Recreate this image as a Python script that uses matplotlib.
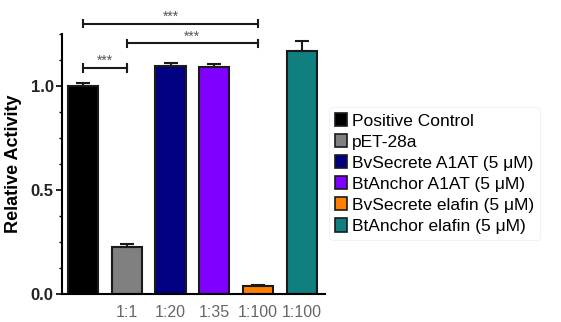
import matplotlib
matplotlib.use("Agg")
import matplotlib.pyplot as plt
from matplotlib.patches import Patch
from matplotlib.ticker import MultipleLocator

plt.rcParams['font.family'] = ['Liberation Sans', 'DejaVu Sans']

series = ["Positive Control", "pET-28a", "BvSecrete A1AT (5 \u03bcM)",
          "BtAnchor A1AT (5 \u03bcM)", "BvSecrete elafin (5 \u03bcM)",
          "BtAnchor elafin (5 \u03bcM)"]
tick_labels = ["", "1:1", "1:20", "1:35", "1:100", "1:100"]
values = [1.00, 0.225, 1.098, 1.09, 0.037, 1.17]
errors = [0.015, 0.015, 0.015, 0.015, 0.008, 0.047]
colors = ["#000000", "#808080", "#000080", "#7F00FF", "#FF8000", "#0F7F7F"]
# significance comparisons: (i, j, height)
sig_pairs = [(0, 4, 1.30), (1, 4, 1.205), (0, 1, 1.086)]
sig_labels = ["***", "***", "***"]
y_ticks = [0.0, 0.5, 1.0]
y_tick_labels = ["0.0", "0.5", "1.0"]

fig = plt.figure(figsize=(5.61, 3.22), dpi=100)
ax = fig.add_axes([0.1105, 0.087, 0.468, 0.807])

x = list(range(len(values)))
ax.bar(x, values, width=0.69, color=colors, edgecolor="#1a1a1a", linewidth=1.5,
       zorder=2)
ax.errorbar(x, values, yerr=[[0]*len(errors), errors], fmt="none",
            ecolor="#1a1a1a", elinewidth=1.5, capsize=5, capthick=1.5, zorder=3)

ax.set_xlim(-0.48, 5.52)
ax.set_ylim(0, 1.25)
ax.set_xticks(x)
ax.set_xticklabels(tick_labels, color="#666666", fontsize=11.5)
ax.tick_params(axis='x', length=0, pad=8)
ax.set_yticks(y_ticks)
ax.set_yticklabels(y_tick_labels, fontweight='bold', color="#222222", fontsize=12)
ax.yaxis.set_minor_locator(MultipleLocator(0.125))
ax.tick_params(axis='y', which='major', length=4, width=1.2, pad=2)
ax.tick_params(axis='y', which='minor', length=2.5, width=1.0)
ax.set_ylabel("Relative Activity", fontweight='bold', fontsize=13, labelpad=6)
for s in ["top", "right"]:
    ax.spines[s].set_visible(False)
ax.spines["left"].set_linewidth(1.5)
ax.spines["bottom"].set_linewidth(1.5)

for (i, j, h), lab in zip(sig_pairs, sig_labels):
    ax.plot([x[i], x[j]], [h, h], color="#1a1a1a", lw=1.5, clip_on=False)
    for k in (i, j):
        ax.plot([x[k], x[k]], [h - 0.018, h + 0.018], color="#1a1a1a", lw=1.5,
                clip_on=False)
    ax.text((x[i] + x[j]) / 2, h + 0.0, lab, ha='center', va='bottom',
            fontsize=10, color="#555555", clip_on=False)

handles = [Patch(facecolor=c, edgecolor="#1a1a1a", linewidth=1.2) for c in colors]
leg = fig.legend(handles, series, loc='upper left', bbox_to_anchor=(0.587, 0.668),
                 frameon=True, fontsize=12.5, handlelength=0.65, handleheight=0.8,
                 handletextpad=0.3, labelspacing=0.31, borderpad=0.35,
                 borderaxespad=0)
leg.get_frame().set_edgecolor("#f0f0f0")
leg.get_frame().set_linewidth(0.8)

fig.savefig("out.png", dpi=100)
